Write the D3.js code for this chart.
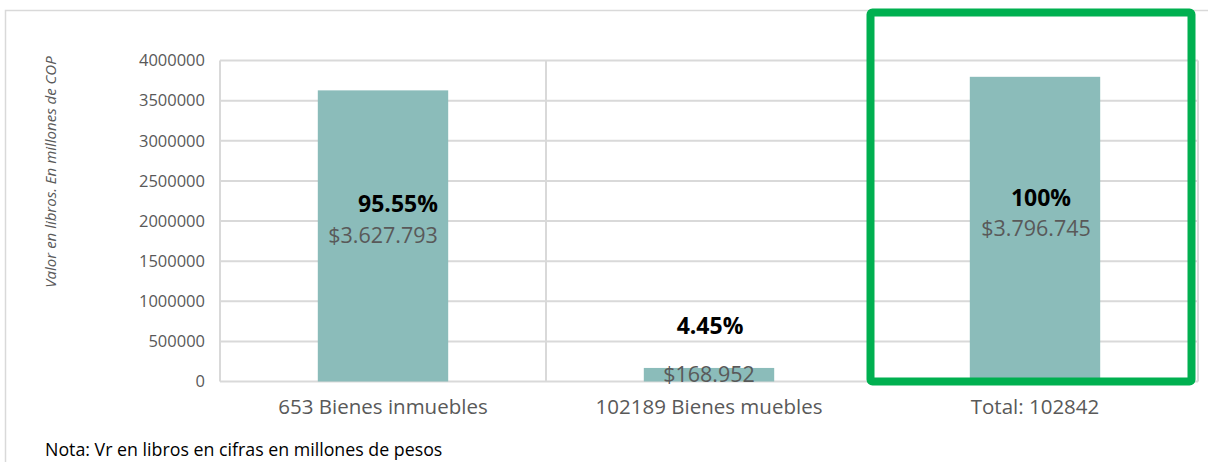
<!DOCTYPE html>
<html><head><meta charset="utf-8">
<script src="https://cdn.jsdelivr.net/npm/d3@7"></script>
<style>
body{margin:0;background:#fff;}
svg{display:block;font-family:"Open Sans",sans-serif;}
</style></head>
<body><svg id="c" width="1208" height="462"></svg>
<script>
const categories = ["653 Bienes inmuebles", "102189 Bienes muebles", "Total: 102842"];
const values = [3627793, 168952, 3796745];
const pctLabels = ["95.55%", "4.45%", "100%"];
const valueLabels = ["$3.627.793", "$168.952", "$3.796.745"];
const pctLabelAt = [2112000, 592000, 2187000];
const valueLabelAt = [1726000, -6000, 1813000];
const yTicks = [0, 500000, 1000000, 1500000, 2000000, 2500000, 3000000, 3500000, 4000000];
const highlighted = "Total: 102842";

const svg = d3.select("#c");
const m = {l: 220, r: 1198, t: 60.5, b: 381.5};

// outer chart border
svg.append("rect").attr("x", 5.5).attr("y", 10.5).attr("width", 1220).attr("height", 470)
  .attr("fill", "none").attr("stroke", "#d9d9d9").attr("stroke-width", 1.5);

const x = d3.scaleBand().domain(categories).range([m.l, m.r]).paddingInner(0).paddingOuter(0);
const y = d3.scaleLinear().domain([0, 4000000]).range([m.b, m.t]);

// horizontal gridlines
svg.append("g").selectAll("line").data(yTicks).join("line")
  .attr("x1", m.l).attr("x2", m.r)
  .attr("y1", d => y(d)).attr("y2", d => y(d))
  .attr("stroke", "#d9d9d9").attr("stroke-width", 2);

// vertical gridlines at category boundaries
const bounds = categories.map(c => x(c)).concat([x(categories[categories.length - 1]) + x.bandwidth()]);
svg.append("g").selectAll("line").data(bounds).join("line")
  .attr("x1", d => d).attr("x2", d => d)
  .attr("y1", m.t).attr("y2", m.b)
  .attr("stroke", "#d9d9d9").attr("stroke-width", 2);

// y axis labels
const yAxis = d3.axisLeft(y).tickValues(yTicks).tickSize(0).tickPadding(15).tickFormat(d3.format("d"));
const ga = svg.append("g").attr("transform", `translate(${m.l},0)`).call(yAxis);
ga.select(".domain").remove();
ga.selectAll("text").attr("font-family", "Open Sans").attr("font-size", 16.5).attr("fill", "#595959");

// x axis labels
const xAxis = d3.axisBottom(x).tickSize(0).tickPadding(18);
const gx = svg.append("g").attr("transform", `translate(0,${m.b})`).call(xAxis);
gx.select(".domain").remove();
gx.selectAll("text").attr("font-family", "Open Sans").attr("font-size", 20.5).attr("fill", "#595959");

// bars
const bw = x.bandwidth() / 2.5;
svg.append("g").selectAll("rect").data(values).join("rect")
  .attr("x", (d, i) => x(categories[i]) + (x.bandwidth() - bw) / 2)
  .attr("width", bw)
  .attr("y", d => y(d))
  .attr("height", d => y(0) - y(d))
  .attr("fill", "#8bbcba");

// labels
const cx = i => x(categories[i]) + x.bandwidth() / 2;
const pctDx = [15, 1, 6];
const valDx = [0, 0, 1];
svg.append("g").selectAll("text").data(pctLabels).join("text")
  .attr("x", (d, i) => cx(i) + pctDx[i])
  .attr("y", (d, i) => y(pctLabelAt[i]))
  .attr("text-anchor", "middle").attr("font-size", 23).attr("font-weight", "bold").attr("fill", "#000")
  .text(d => d);
svg.append("g").selectAll("text").data(valueLabels).join("text")
  .attr("x", (d, i) => cx(i) + valDx[i])
  .attr("y", (d, i) => y(valueLabelAt[i]))
  .attr("text-anchor", "middle").attr("font-size", 21.5).attr("fill", "#595959")
  .text(d => d);

// highlight box
const hx = x(highlighted);
svg.append("rect")
  .attr("x", hx - 1.5).attr("y", 12.5)
  .attr("width", x.bandwidth() - 5).attr("height", y(0) - 12.5)
  .attr("rx", 2)
  .attr("fill", "none").attr("stroke", "#00b050").attr("stroke-width", 8);

// y title
svg.append("text")
  .attr("transform", `translate(56,172) rotate(-90)`)
  .attr("text-anchor", "middle").attr("font-size", 15).attr("font-style", "italic").attr("fill", "#595959")
  .text("Valor en libros. En millones de COP");

// note
svg.append("text").attr("x", 45).attr("y", 456).attr("font-size", 17.8).attr("fill", "#000")
  .text("Nota: Vr en libros en cifras en millones de pesos");
</script></body></html>
